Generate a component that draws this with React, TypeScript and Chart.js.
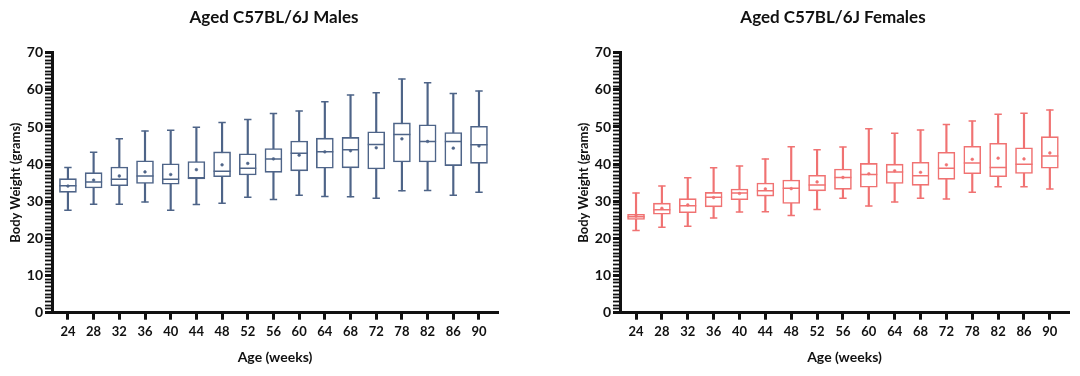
import React, { useEffect, useRef } from "react";
import { Chart, registerables } from "chart.js";

Chart.register(...registerables);

const ages = ["24", "28", "32", "36", "40", "44", "48", "52", "56", "60", "64", "68", "72", "78", "82", "86", "90"];

// Males
const maleMin = [27.6, 29.2, 29.2, 29.8, 27.6, 29.1, 29.5, 31.1, 30.5, 31.6, 31.3, 31.2, 30.8, 32.8, 32.9, 31.6, 32.4];
const maleQ1 = [32.4, 33.6, 34.2, 34.8, 34.6, 36.0, 36.6, 37.1, 37.8, 38.2, 38.9, 39.0, 38.7, 40.6, 40.6, 39.6, 40.2];
const maleMedian = [34.2, 35.2, 35.9, 36.8, 35.9, 36.3, 38.1, 38.9, 41.4, 42.9, 43.3, 43.9, 45.3, 48.0, 46.1, 46.1, 45.2];
const maleQ3 = [36.1, 37.7, 39.2, 40.9, 40.1, 40.7, 43.3, 42.8, 44.2, 46.2, 47.0, 47.2, 48.7, 51.1, 50.6, 48.5, 50.2];
const maleMax = [39.1, 43.2, 46.8, 48.9, 49.1, 49.9, 51.2, 52.0, 53.6, 54.3, 56.8, 58.6, 59.2, 62.9, 61.9, 59.0, 59.7];
const maleMean = [34.1, 35.7, 36.8, 37.9, 37.2, 38.5, 39.8, 40.2, 41.4, 42.4, 43.3, 43.6, 44.4, 46.8, 46.1, 44.3, 44.9];

// Females
const femMin = [22.1, 23.0, 23.3, 25.5, 27.1, 27.2, 26.2, 27.8, 30.8, 28.7, 29.8, 30.8, 30.6, 32.4, 33.9, 33.9, 33.3];
const femQ1 = [25.1, 26.5, 26.9, 28.5, 30.4, 31.4, 29.4, 32.8, 33.2, 33.8, 34.8, 34.3, 35.9, 37.4, 36.6, 37.5, 38.9];
const femMedian = [25.8, 27.7, 28.8, 31.1, 32.2, 32.8, 33.5, 34.4, 36.4, 37.2, 37.9, 36.9, 38.9, 40.3, 39.1, 40.0, 42.2];
const femQ3 = [26.5, 29.5, 30.7, 32.4, 33.3, 34.9, 35.7, 37.0, 38.7, 40.2, 40.0, 40.5, 43.2, 44.8, 45.6, 44.4, 47.4];
const femMax = [32.2, 34.1, 36.3, 39.0, 39.5, 41.4, 44.7, 43.9, 44.6, 49.5, 48.3, 49.2, 50.7, 51.6, 53.4, 53.7, 54.6];
const femMean = [26.0, 28.1, 29.0, 31.0, 32.1, 33.3, 33.4, 35.2, 36.4, 37.4, 38.2, 37.8, 39.8, 41.3, 41.6, 41.4, 43.0];

// y ticks: every 1 g (minor), labelled every 10 g (major)
const yTickValues = Array.from({ length: 71 }, (_, i) => i);
const yMajorStep = 10;

const FONT = "Lato, 'Open Sans', sans-serif";

function buildConfig(title: string, color: string, mins: number[], q1: number[], med: number[], q3: number[], maxs: number[], means: number[], yWidth: number, rightWidth: number, yTitlePad: number) {
  const pts = (arr: number[]) => arr.map((v, i) => ({ x: i, y: v }));
  return {
    type: "bar",
    data: {
      datasets: [
        {
          type: "bar",
          data: mins.map((v, i) => ({ x: i, y: [v, maxs[i]] })),
          backgroundColor: color,
          borderWidth: 0,
          barThickness: 1.5,
          grouped: false,
          order: 5,
        },
        {
          type: "bar",
          data: q1.map((v, i) => ({ x: i, y: [v, q3[i]] })),
          backgroundColor: "#ffffff",
          borderColor: color,
          borderWidth: 1.6,
          borderSkipped: false,
          barThickness: 17,
          grouped: false,
          order: 4,
        },
        {
          type: "line",
          data: [...pts(mins), ...pts(maxs)],
          showLine: false,
          pointStyle: "line",
          pointRadius: 3.7,
          borderColor: color,
          borderWidth: 1.5,
          order: 3,
        },
        {
          type: "line",
          data: pts(med),
          showLine: false,
          pointStyle: "line",
          pointRadius: 8.5,
          borderColor: color,
          borderWidth: 1.5,
          order: 2,
        },
        {
          type: "line",
          data: pts(means),
          showLine: false,
          pointStyle: "circle",
          pointRadius: 1.4,
          backgroundColor: color,
          borderColor: color,
          borderWidth: 0.5,
          order: 1,
        },
      ],
    },
    options: {
      responsive: false,
      animation: false,
      events: [],
      layout: { padding: 0 },
      plugins: {
        legend: { display: false },
        tooltip: { enabled: false },
        title: {
          display: true,
          text: title,
          color: "#111",
          font: { family: FONT, size: 17, weight: "bold" },
          padding: { top: 7, bottom: 25.3 },
        },
      },
      scales: {
        x: {
          type: "linear",
          offset: false,
          min: -0.62,
          max: 16.74,
          afterBuildTicks: (scale: any) => {
            scale.ticks = ages.map((_, i) => ({ value: i }));
          },
          afterFit: (scale: any) => {
            scale.height = 63.3;
          },
          ticks: {
            callback: (v: number) => ages[v],
            color: "#111",
            font: { family: FONT, size: 13, weight: "bold" },
            padding: 4,
            maxRotation: 0,
            autoSkip: false,
          },
          grid: { display: true, offset: false, drawOnChartArea: false, drawTicks: true, tickLength: 7, tickWidth: 3, tickColor: "#111" },
          border: { display: true, color: "#111", width: 3 },
          title: {
            display: true,
            text: "Age (weeks)",
            color: "#111",
            font: { family: FONT, size: 14, weight: "bold" },
            padding: { top: 4, bottom: 10 },
          },
        },
        y: {
          type: "linear",
          min: 0,
          max: 70,
          afterBuildTicks: (scale: any) => {
            scale.ticks = yTickValues.map((v) => ({ value: v }));
          },
          afterFit: (scale: any) => {
            scale.width = yWidth;
          },
          ticks: {
            autoSkip: false,
            callback: (v: number) => (v % yMajorStep === 0 ? String(v) : ""),
            color: "#111",
            font: { family: FONT, size: 14, weight: "bold" },
            padding: 2,
          },
          grid: {
            display: true,
            drawOnChartArea: false,
            drawTicks: true,
            tickLength: 7,
            tickWidth: (ctx: any) => (ctx.tick && ctx.tick.value % yMajorStep === 0 ? 3 : 1.8),
            tickColor: "#111",
          },
          border: { display: true, color: "#111", width: 3 },
          title: {
            display: true,
            text: "Body Weight (grams)",
            color: "#111",
            font: { family: FONT, size: 13, weight: "bold" },
            padding: { top: yTitlePad, bottom: 0 },
          },
        },
        yRight: {
          type: "linear",
          position: "right",
          display: true,
          min: 0,
          max: 1,
          afterFit: (scale: any) => {
            scale.width = rightWidth;
          },
          ticks: { display: false },
          grid: { display: false, drawOnChartArea: false, drawTicks: false },
          border: { display: false },
        },
      },
    },
  };
}

function BoxChart(props: { config: any; left: number; width: number }) {
  const ref = useRef<HTMLCanvasElement | null>(null);
  useEffect(() => {
    if (!ref.current) return;
    const chart = new Chart(ref.current, props.config);
    return () => chart.destroy();
  }, []);
  return (
    <canvas
      ref={ref}
      width={props.width}
      height={376}
      style={{ position: "absolute", left: props.left, top: 0, width: props.width, height: 376 }}
    />
  );
}

export default function App() {
  // left canvas: 0..548 (title centred at 274); plot area 52..498
  const maleCfg = buildConfig("Aged C57BL/6J Males", "#4e6488", maleMin, maleQ1, maleMedian, maleQ3, maleMax, maleMean, 52, 50, 8);
  // right canvas: 566..1100 (title centred at 833); plot area 620..1069
  const femCfg = buildConfig("Aged C57BL/6J Females", "#f07272", femMin, femQ1, femMedian, femQ3, femMax, femMean, 54, 31, 10);
  return (
    <div style={{ position: "absolute", left: 0, top: 0, width: 1080, height: 376, background: "#fff", overflow: "hidden" }}>
      <BoxChart config={maleCfg} left={0} width={548} />
      <BoxChart config={femCfg} left={566} width={534} />
    </div>
  );
}
